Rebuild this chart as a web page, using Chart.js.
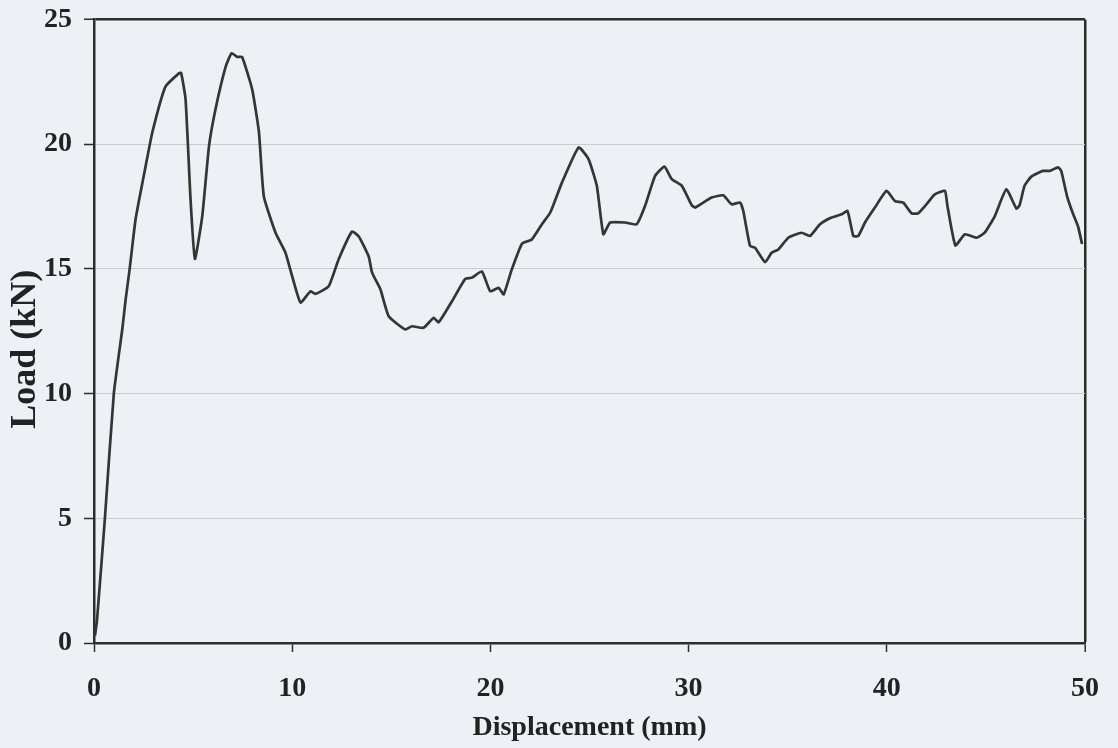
<!DOCTYPE html>
<html>
<head>
<meta charset="utf-8">
<script src="https://cdn.jsdelivr.net/npm/chart.js@4.4.1/dist/chart.umd.min.js"></script>
<style>
  html, body { margin: 0; padding: 0; background: #edf0f5; }
  #wrap { width: 1118px; height: 748px; }
</style>
</head>
<body>
<div id="wrap"><canvas id="c" width="1118" height="748"></canvas></div>
<script>
// Displacement (mm)
const displacement = [
  0.05, 0.15, 0.55, 1.0, 1.43, 1.6, 1.8, 2.1, 2.6, 2.95, 3.6, 4.3, 4.4, 4.62, 4.87, 5.09,
  5.46, 5.8, 6.13, 6.64, 6.94, 7.22, 7.47, 7.98, 8.32, 8.57, 9.16, 9.66, 10.0, 10.42,
  10.92, 11.17, 11.84, 12.35, 13.02, 13.36, 13.86, 14.03, 14.45, 14.87, 15.71, 16.04,
  16.63, 17.14, 17.39, 18.06, 18.73, 19.07, 19.57, 19.99, 20.41, 20.67, 21.08, 21.6,
  22.09, 22.6, 23.02, 23.61, 24.45, 24.95, 25.37, 25.7, 26.04, 26.8, 27.38, 27.8,
  28.31, 28.78, 29.15, 29.66, 30.16, 30.33, 31.16, 31.75, 32.17, 32.6, 32.76, 33.1,
  33.35, 33.86, 34.19, 34.53, 35.03, 35.7, 36.12, 36.63, 37.21, 37.72, 38.02, 38.31,
  38.56, 38.9, 39.4, 39.99, 40.41, 40.83, 41.25, 41.58, 42.0, 42.42, 42.93, 43.06,
  43.46, 43.94, 44.52, 44.94, 45.45, 46.03, 46.54, 46.7, 46.95, 47.29, 47.88, 48.22,
  48.64, 48.8, 49.1, 49.4, 49.65, 49.85
];
// Load (kN)
const load = [
  0.3, 0.9, 5.0, 10.0, 12.6, 13.8, 15.0, 17.0, 19.1, 20.5, 22.3, 22.85, 22.85, 21.8, 17.8, 15.4,
  17.1, 19.9, 21.4, 23.1, 23.65, 23.5, 23.5, 22.2, 20.5, 17.9, 16.45, 15.65, 14.7, 13.65,
  14.1, 14.0, 14.3, 15.4, 16.5, 16.3, 15.5, 14.85, 14.18, 13.1, 12.57, 12.7,
  12.64, 13.04, 12.86, 13.7, 14.6, 14.65, 14.9, 14.1, 14.24, 13.98, 14.98, 16.02,
  16.18, 16.79, 17.26, 18.46, 19.87, 19.4, 18.33, 16.39, 16.86, 16.86, 16.79, 17.52,
  18.73, 19.1, 18.6, 18.33, 17.55, 17.46, 17.86, 17.95, 17.59, 17.66, 17.32, 15.92,
  15.85, 15.27, 15.65, 15.78, 16.25, 16.45, 16.32, 16.79, 17.06, 17.19, 17.32, 16.32,
  16.32, 16.86, 17.46, 18.13, 17.72, 17.66, 17.23, 17.23, 17.59, 17.99, 18.13, 17.52,
  15.94, 16.39, 16.25, 16.45, 17.12, 18.19, 17.42, 17.55, 18.33, 18.7, 18.93, 18.93,
  19.07, 18.93, 17.9, 17.2, 16.7, 16.0
];
const xTicks = [0, 10, 20, 30, 40, 50];
const yTicks = [0, 5, 10, 15, 20, 25];

const points = displacement.map((d, i) => ({ x: d, y: load[i] }));
const dark = '#2b2d2b';
const serif = '"Liberation Serif", "Times New Roman", serif';
const tickFont = { family: serif, size: 28, weight: 'bold' };

new Chart(document.getElementById('c'), {
  type: 'scatter',
  data: {
    datasets: [{
      data: points,
      showLine: true,
      borderColor: '#333633',
      borderWidth: 2.7,
      pointRadius: 0,
      tension: 0.15,
      fill: false
    }]
  },
  options: {
    responsive: false,
    devicePixelRatio: 1,
    animation: false,
    layout: { padding: { top: 19.5, right: 33, left: 0, bottom: 0 } },
    plugins: { legend: { display: false }, tooltip: { enabled: false } },
    scales: {
      x: {
        type: 'linear', min: xTicks[0], max: xTicks[xTicks.length - 1],
        afterBuildTicks: s => { s.ticks = xTicks.map(v => ({ value: v })); },
        afterFit: s => { s.height = 105; s.paddingLeft = 0; s.paddingRight = 0; },
        border: { display: true, color: dark, width: 2.5 },
        grid: {
          display: true, drawOnChartArea: true, drawTicks: true, tickLength: 9,
          color: ctx => (ctx.tick && ctx.tick.value === 50) ? dark : 'rgba(0,0,0,0)',
          lineWidth: ctx => (ctx.tick && ctx.tick.value === 50) ? 2.5 : 1,
          tickColor: dark, tickWidth: 1.5
        },
        ticks: { font: tickFont, color: '#222', padding: 20, maxRotation: 0 },
        title: {
          display: true, text: 'Displacement (mm)', color: '#222',
          font: { family: serif, size: 28, weight: 'bold' },
          padding: { top: 0, bottom: 3 }
        }
      },
      y: {
        type: 'linear', min: yTicks[0], max: yTicks[yTicks.length - 1],
        afterBuildTicks: s => { s.ticks = yTicks.map(v => ({ value: v })); },
        afterFit: s => { s.width = 94; s.paddingTop = 0; s.paddingBottom = 0; },
        border: { display: true, color: dark, width: 2.5 },
        grid: {
          display: true, drawTicks: true, tickLength: 10,
          color: ctx => (ctx.tick && ctx.tick.value === 25) ? dark : '#c9cccf',
          lineWidth: ctx => (ctx.tick && ctx.tick.value === 25) ? 2.5 : 1,
          tickColor: dark, tickWidth: 1.5
        },
        ticks: { font: tickFont, color: '#222', padding: 12 },
        title: {
          display: true, text: 'Load (kN)    ', color: '#222',
          font: { family: serif, size: 36, weight: 'bold' },
          padding: { top: 4, bottom: 0 }
        }
      }
    }
  }
});
</script>
</body>
</html>
